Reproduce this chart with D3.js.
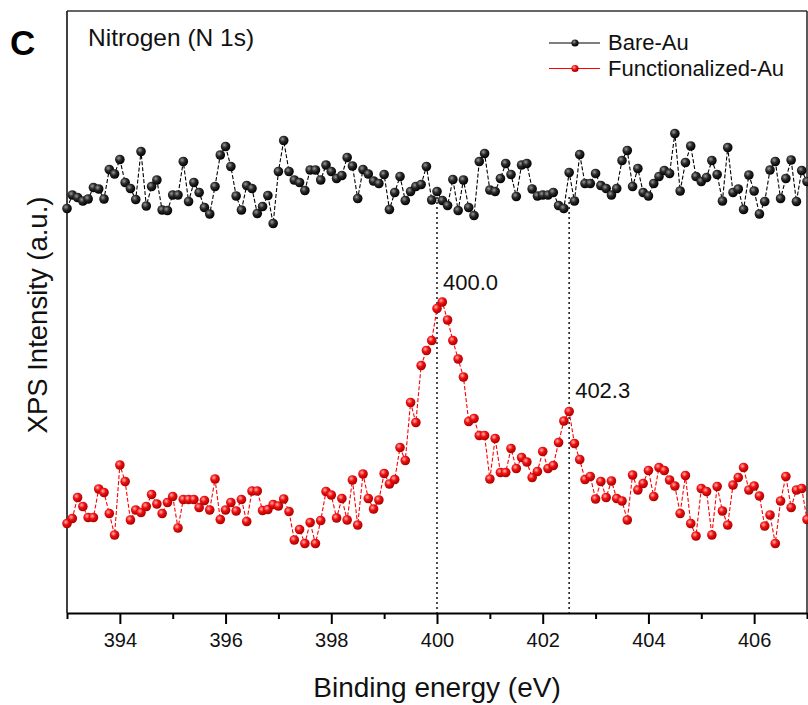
<!DOCTYPE html>
<html>
<head>
<meta charset="utf-8">
<script src="https://cdn.jsdelivr.net/npm/d3@7"></script>
<style>
  html, body { margin: 0; padding: 0; background: #fff; }
  svg { display: block; font-family: "Liberation Sans", Arial, sans-serif; }
</style>
</head>
<body>
<svg id="chart" width="808" height="705"></svg>
<script>
// N 1s XPS spectra, 393.0–407.0 eV in 0.1 eV steps (intensity in arbitrary units)
const energyStart = 393.0;
const energyStep = 0.1;

const bareAu = [
  80.9, 83.6, 83.1, 82.4, 82.8, 85.1, 84.8, 82.8, 88.7, 87.8,
  90.7, 86.1, 84.9, 82.7, 92.3, 81.4, 85.3, 86.6, 80.6, 80.5,
  83.6, 83.6, 90.3, 82.3, 86.1, 84.1, 81.1, 79.8, 85.3, 91.6,
  93.3, 89.3, 83.4, 80.6, 85.5, 84.9, 79.9, 81.3, 83.5, 77.9,
  88.3, 94.5, 88.3, 86.6, 86.1, 84.5, 88.6, 88.6, 86.6, 89.6,
  88.3, 86.9, 87.5, 91.1, 89.4, 82.9, 88.7, 87.8, 86.4, 85.9,
  87.7, 80.7, 84.1, 87.3, 82.5, 84.3, 85.3, 85.7, 89.3, 82.6,
  84.3, 82.5, 81.5, 86.7, 80.5, 86.6, 81.1, 79.5, 90.3, 91.9,
  84.6, 84.3, 86.9, 89.9, 87.7, 83.3, 89.6, 89.9, 84.8, 83.4,
  83.6, 83.6, 84.1, 81.5, 80.9, 88.1, 82.4, 91.7, 85.9, 85.9,
  87.9, 85.5, 84.9, 83.6, 84.9, 90.5, 92.5, 85.3, 88.9, 84.1,
  83.4, 85.9, 87.3, 88.5, 87.9, 95.9, 84.4, 90.1, 93.4, 87.3,
  86.3, 87.1, 90.5, 87.7, 82.4, 93.1, 84.1, 84.8, 80.7, 87.6,
  84.4, 79.8, 82.3, 88.6, 90.3, 82.9, 86.9, 90.6, 82.3, 88.5,
  86.3
];

const functionalizedAu = [
  17.9, 18.9, 23.1, 21.3, 19.1, 19.1, 24.8, 24.1, 19.9, 15.6,
  29.6, 26.3, 18.6, 20.6, 20.1, 21.3, 23.7, 21.8, 19.9, 22.1,
  23.3, 17.0, 22.7, 22.7, 22.7, 21.1, 22.5, 20.6, 26.8, 18.7,
  20.6, 22.1, 20.4, 22.7, 18.3, 24.4, 24.4, 20.5, 20.7, 21.7,
  21.4, 22.8, 20.3, 14.6, 16.7, 13.9, 18.1, 13.9, 18.5, 24.3,
  23.6, 19.0, 22.9, 18.6, 26.6, 17.6, 27.8, 22.9, 20.8, 22.6,
  27.9, 25.8, 26.7, 33.1, 30.5, 42.1, 38.1, 49.5, 52.5, 54.5,
  60.9, 62.2, 58.6, 54.5, 50.8, 47.2, 38.3, 38.9, 35.5, 35.5,
  26.8, 34.9, 28.1, 28.1, 32.9, 28.9, 31.1, 30.2, 27.1, 28.3,
  32.3, 28.9, 29.5, 34.1, 38.4, 40.3, 33.9, 30.7, 26.7, 27.3,
  22.8, 26.3, 23.1, 26.4, 22.9, 22.4, 18.6, 27.6, 24.6, 25.9,
  28.5, 23.3, 29.1, 28.5, 26.6, 25.4, 19.9, 27.5, 17.9, 15.4,
  24.9, 24.3, 15.6, 25.3, 20.4, 17.6, 25.6, 27.1, 29.1, 24.6,
  25.4, 23.4, 17.4, 19.6, 13.9, 22.4, 27.3, 21.1, 24.6, 24.9,
  18.7
];

const xTicks = [394, 396, 398, 400, 402, 404, 406];
const xMinorTicks = [393, 395, 397, 399, 401, 403, 405, 407];
const seriesNames = ["Bare-Au", "Functionalized-Au"];

// Peak markers: position of the dotted guide line and the label printed beside it
const peakLines = [400.0, 402.5];
const peakLabels = ["400.0", "402.3"];

const svg = d3.select("#chart");
const margin = { left: 67, right: 1, top: 11, bottom: 92 };
const W = 808, H = 705;
const plotBottom = H - margin.bottom;

const x = d3.scaleLinear().domain([393, 407]).range([margin.left, W - margin.right]);
const y = d3.scaleLinear().domain([0, 120.4]).range([plotBottom, margin.top]);

const energy = i => energyStart + i * energyStep;

// Sphere-like marker shading
const defs = svg.append("defs");
function sphere(id, light, mid, dark) {
  const g = defs.append("radialGradient").attr("id", id)
    .attr("cx", "38%").attr("cy", "35%").attr("r", "65%");
  g.append("stop").attr("offset", "0%").attr("stop-color", light);
  g.append("stop").attr("offset", "45%").attr("stop-color", mid);
  g.append("stop").attr("offset", "100%").attr("stop-color", dark);
}
sphere("ballBlack", "#9a9a9a", "#2a2a2a", "#000");
sphere("ballRed", "#ffb0b0", "#f01010", "#a80000");

// Frame: top and right borders
svg.append("line").attr("x1", margin.left).attr("x2", W - margin.right)
  .attr("y1", margin.top).attr("y2", margin.top)
  .attr("stroke", "#333").attr("stroke-width", 1.5);
svg.append("line").attr("x1", W - margin.right).attr("x2", W - margin.right)
  .attr("y1", margin.top).attr("y2", plotBottom)
  .attr("stroke", "#222").attr("stroke-width", 1.5);
// Left axis line (no ticks)
svg.append("line").attr("x1", margin.left).attr("x2", margin.left)
  .attr("y1", margin.top).attr("y2", plotBottom)
  .attr("stroke", "#111").attr("stroke-width", 1.6);

// Bottom axis
const xAxis = d3.axisBottom(x).tickValues(xTicks).tickFormat(d3.format("d"))
  .tickSize(11).tickSizeOuter(0).tickPadding(9);
const gx = svg.append("g").attr("transform", `translate(0,${plotBottom})`).call(xAxis);
gx.select(".domain").attr("stroke", "#000").attr("stroke-width", 2);
gx.selectAll(".tick line").attr("stroke", "#000").attr("stroke-width", 2);
gx.selectAll(".tick text").attr("font-size", 20).attr("fill", "#111")
  .attr("font-family", "'Liberation Sans', Arial, sans-serif");
const gxMinor = svg.append("g").attr("transform", `translate(0,${plotBottom})`)
  .call(d3.axisBottom(x).tickValues(xMinorTicks).tickSize(6).tickFormat(""));
gxMinor.select(".domain").remove();
gxMinor.selectAll(".tick line").attr("stroke", "#000").attr("stroke-width", 2);

// Dotted peak guides
svg.append("g").selectAll("line").data(peakLines).join("line")
  .attr("x1", d => x(d)).attr("x2", d => x(d))
  .attr("y1", 197).attr("y2", plotBottom)
  .attr("stroke", "#222").attr("stroke-width", 1.6)
  .attr("stroke-dasharray", "2,3");

// Series
const line = d3.line().x((d, i) => x(energy(i))).y(d => y(d));
const series = [
  { name: seriesNames[0], values: bareAu, color: "#000", ball: "url(#ballBlack)" },
  { name: seriesNames[1], values: functionalizedAu, color: "#ff0000", ball: "url(#ballRed)" }
];
series.forEach(s => {
  svg.append("path").datum(s.values).attr("d", line)
    .attr("fill", "none").attr("stroke", s.color).attr("stroke-width", 1.1)
    .attr("stroke-dasharray", "4,2");
  svg.append("g").selectAll("circle").data(s.values).join("circle")
    .attr("cx", (d, i) => x(energy(i))).attr("cy", d => y(d))
    .attr("r", 4.8).attr("fill", s.ball);
});

// Peak labels
svg.append("g").selectAll("text").data(peakLabels).join("text")
  .attr("x", (d, i) => x(peakLines[i]) + 6)
  .attr("y", (d, i) => [290, 398][i])
  .attr("font-size", 22).attr("fill", "#111").text(d => d);

// Legend
const legend = svg.append("g");
series.forEach((s, i) => {
  const ly = 43 + i * 25.5;
  legend.append("line").attr("x1", 549).attr("x2", 600).attr("y1", ly).attr("y2", ly)
    .attr("stroke", s.color).attr("stroke-width", 1.2);
  legend.append("circle").attr("cx", 575).attr("cy", ly).attr("r", 3.6).attr("fill", s.ball);
  legend.append("text").attr("x", 608).attr("y", ly + 7).attr("font-size", 22)
    .attr("fill", "#111").text(s.name);
});

// Panel letter and title
svg.append("text").attr("x", 10).attr("y", 55).attr("font-size", 35)
  .attr("font-weight", "bold").attr("fill", "#000").text("C");
svg.append("text").attr("x", 88).attr("y", 46).attr("font-size", 24.5)
  .attr("fill", "#111").text("Nitrogen (N 1s)");

// Axis titles
svg.append("text").attr("x", 437).attr("y", 697).attr("text-anchor", "middle")
  .attr("font-size", 28).attr("fill", "#111").text("Binding energy (eV)");
svg.append("text").attr("transform", `translate(47,${(margin.top + plotBottom) / 2 + 3}) rotate(-90)`)
  .attr("text-anchor", "middle").attr("font-size", 27.5).attr("fill", "#111")
  .text("XPS Intensity (a.u.)");
</script>
</body>
</html>
